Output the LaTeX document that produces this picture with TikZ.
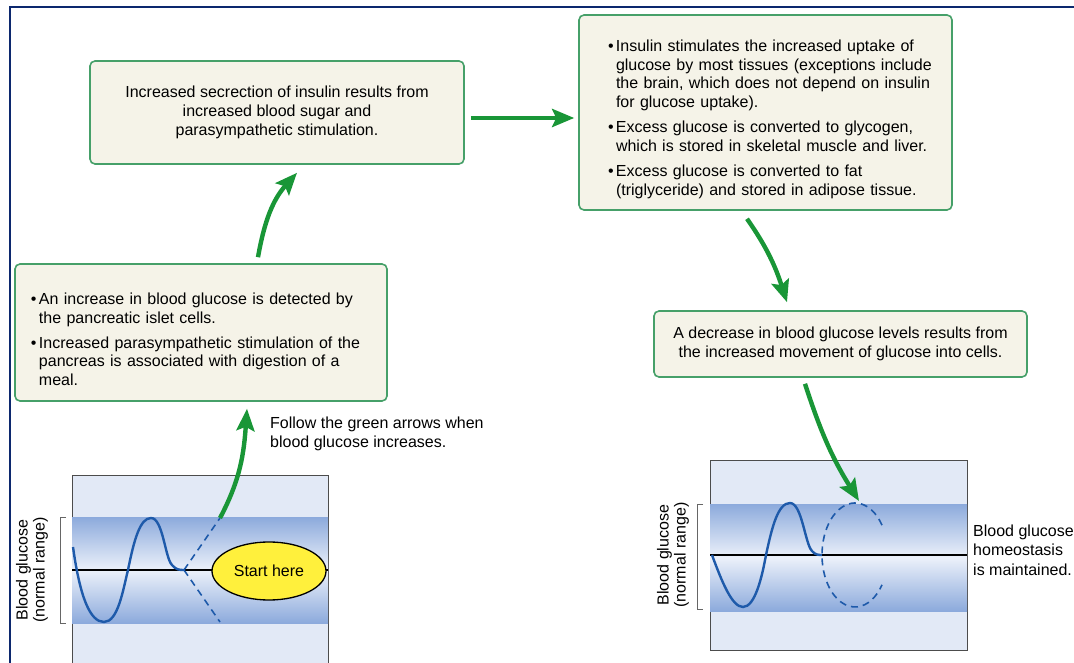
\documentclass[tikz,border=0pt]{standalone}
\usepackage{fontspec}
\setmainfont{Liberation Sans}
\usetikzlibrary{arrows.meta,positioning,shapes.geometric}
\definecolor{framenavy}{RGB}{12,40,110}
\definecolor{boxgreen}{RGB}{70,160,105}
\definecolor{boxcream}{RGB}{245,243,232}
\definecolor{arrowgreen}{RGB}{25,150,55}
\definecolor{plotpale}{RGB}{226,233,246}
\definecolor{banddeep}{RGB}{140,170,220}
\definecolor{bandpale}{RGB}{236,241,250}
\definecolor{curveblue}{RGB}{30,90,170}
\definecolor{startyellow}{RGB}{255,240,60}
\newlength{\bulletw}
\setlength{\bulletw}{8pt}
\newcommand{\bitem}{\par\hangindent=\bulletw\hangafter=1\noindent\makebox[\bulletw][l]{\textbullet}}

\begin{document}
\begin{tikzpicture}[x=1pt,y=1pt,
 every node/.style={font=\fontsize{16}{18.7}\selectfont},
 infobox/.style={draw=boxgreen,fill=boxcream,line width=1.6pt,rounded corners=5pt,inner sep=0pt},
 listbox/.style={infobox,execute at begin node={\setlength{\parskip}{6.5pt}}},
 plotbg/.style={draw=black!70,line width=0.8pt,fill=plotpale},
 bracket/.style={draw=black!60,line width=0.9pt},
 curve/.style={curveblue,line width=2.4pt},
 guess/.style={curveblue,line width=1.6pt,dash pattern=on 7pt off 5pt},
 garrow/.style={draw=arrowgreen,line width=4.4pt,-{Stealth[length=22pt,width=18pt,inset=4pt,fill=arrowgreen]}}
]
\useasboundingbox (0,0) rectangle (1074,662);
\fill[white] (0,0) rectangle (1074,662);
\draw[framenavy,line width=2.5pt] (10,-5) -- (10,655) -- (1080,655);

% text boxes
\node[infobox,minimum width=374pt,minimum height=103pt,align=center] (secr) at (277,549.5)
 {Increased secrection of insulin results from\\increased blood sugar and\\parasympathetic stimulation.};
\node[listbox,minimum width=373pt,minimum height=195pt,text width=353pt] (uptake) at (765.5,549.5)
 {\leftskip=19pt
 \bitem Insulin stimulates the increased uptake of\newline glucose by most tissues (exceptions include\newline the brain, which does not depend on insulin\newline for glucose uptake).
 \bitem Excess glucose is converted to glycogen,\newline which is stored in skeletal muscle and liver.
 \bitem Excess glucose is converted to fat\newline (triglyceride) and stored in adipose tissue.\par};
\node[listbox,minimum width=372pt,minimum height=137pt,text width=356pt] (detect) at (201,329.5)
 {\leftskip=8pt
 \bitem An increase in blood glucose is detected by\newline the pancreatic islet cells.
 \bitem Increased parasympathetic stimulation of the\newline pancreas is associated with digestion of a\newline meal.\par};
\node[infobox,minimum width=373pt,minimum height=66pt,align=center] (drop) at (840.5,318)
 {A decrease in blood glucose levels results from\\the increased movement of glucose into cells.};
\node[anchor=north west,align=left,inner sep=0pt] (follow) at (270,245)
 {Follow the green arrows when\\blood glucose increases.};

% left graph
\draw[plotbg] (72,-5) rectangle (328,187);
\shade[top color=banddeep,bottom color=banddeep,middle color=bandpale] (72,39) rectangle (328,145);
\draw[black,line width=1.1pt] (72,92) -- (328,92);
\draw[bracket] (66,145) -- (60,145) -- (60,39) -- (66,39);
\node[rotate=90,align=center,font=\fontsize{16}{17}\selectfont] (lefty) at (32,92) {Blood glucose\\(normal range)};
\draw[curve] (73,115) .. controls (80,65) and (90,40) .. (104,40) .. controls (118,40) and (123,72) .. (128,92)
 .. controls (134,122) and (140,144) .. (151,144) .. controls (163,144) and (165,104) .. (172,97)
 .. controls (176,92) and (180,92) .. (184,92);
\coordinate (rise) at (220,144);
\coordinate (fall) at (220,40);
\draw[guess] (184,92) -- (rise);
\draw[guess] (184,92) -- (fall);
\node[ellipse,draw=black,line width=1.3pt,fill=startyellow,minimum width=114pt,minimum height=58pt] (start) at (269,91) {Start here};

% right graph
\draw[plotbg] (710,12) rectangle (967,202);
\shade[top color=banddeep,bottom color=banddeep,middle color=bandpale] (710,51) rectangle (967,158);
\draw[black,line width=1.1pt] (710,107) -- (967,107);
\draw[bracket] (703,158) -- (697,158) -- (697,53) -- (703,53);
\node[rotate=90,align=center,font=\fontsize{16}{17}\selectfont] (righty) at (673,107) {Blood glucose\\(normal range)};
\draw[curve] (712,107) .. controls (722,80) and (732,55) .. (743,55) .. controls (755,55) and (762,85) .. (766,107)
 .. controls (772,135) and (778,159) .. (790,159) .. controls (802,159) and (805,118) .. (812,111)
 .. controls (815,107) and (819,107) .. (822,107);
\draw[guess] ([shift={(35:33 and 52)}]855,107) arc[start angle=35,end angle=325,x radius=33,y radius=52];
\coordinate (peak) at (859,161);
\node[anchor=west,align=left,inner sep=0pt,font=\fontsize{16}{19.5}\selectfont] (keep) at (973,112)
 {Blood glucose\\homeostasis\\is maintained.};

% green arrows
\draw[garrow] ([xshift=57pt,yshift=6pt]detect.north) to[out=80,in=228] ([xshift=20pt,yshift=-8pt]secr.south);
\draw[garrow] ([xshift=6pt,yshift=-5.5pt]secr.east) -- ([xshift=-4pt,yshift=-5.5pt]uptake.west);
\draw[garrow] ([xshift=-18.5pt,yshift=-8pt]uptake.south) to[out=-55,in=108] ([xshift=-53.5pt,yshift=8pt]drop.north);
\draw[garrow] ([xshift=-35.5pt,yshift=-6pt]drop.south) to[out=-72,in=122] (peak);
\draw[garrow] (rise) to[out=62,in=266] ([xshift=46pt,yshift=-7pt]detect.south);
\end{tikzpicture}
\end{document}
